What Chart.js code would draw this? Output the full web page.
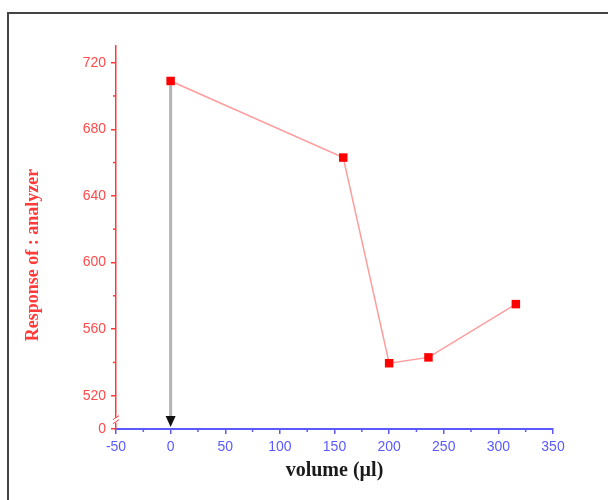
<!DOCTYPE html>
<html>
<head>
<meta charset="utf-8">
<script src="https://cdn.jsdelivr.net/npm/chart.js@4"></script>
<style>
    html, body { margin: 0; padding: 0; background: #fff; }
    #wrap { position: relative; width: 608px; height: 500px; overflow: hidden; }
    #frame {
        position: absolute; left: 7px; top: 12px; right: -5px; bottom: -5px;
        border-top: 2px solid #444; border-left: 2px solid #444;
    }
    canvas { position: absolute; left: 0; top: 0; }
</style>
</head>
<body>
<div id="wrap">
    <div id="frame"></div>
    <canvas id="response" width="608" height="500"></canvas>
</div>
<script>
// Data
const volumes = [0, 158, 200, 236, 316];
const responses = [709, 663, 539.5, 543, 575];

// y axis is broken: the bottom position stands for 0
const yBreakValue = 500;
const yBreakLabel = "0";
const yMajorTicks = [520, 560, 600, 640, 680, 720];
const yMinorTicks = [540, 580, 620, 660, 700];
const xMajorTicks = [-50, 0, 50, 100, 150, 200, 250, 300, 350];
const xMinorTicks = [-25, 25, 75, 125, 175, 225, 275, 325];

const RED = "#ff3b3b";
const BLUE = "#5a5aff";

// extra bits: grey arrow at volume 0, minor ticks, axis break, y title
const extras = {
    id: "extras",
    beforeDatasetsDraw(chart) {
        const { ctx, scales: { x, y } } = chart;
        const px = x.getPixelForValue(volumes[0]);
        const top = y.getPixelForValue(responses[0]);
        const bottom = y.getPixelForValue(yBreakValue);
        ctx.save();
        ctx.strokeStyle = "#b4b4b4";
        ctx.lineWidth = 3;
        ctx.beginPath();
        ctx.moveTo(px, top);
        ctx.lineTo(px, bottom - 12);
        ctx.stroke();
        ctx.fillStyle = "#111";
        ctx.beginPath();
        ctx.moveTo(px - 5, bottom - 13);
        ctx.lineTo(px + 5, bottom - 13);
        ctx.lineTo(px, bottom - 2);
        ctx.closePath();
        ctx.fill();
        ctx.restore();
    },
    afterDraw(chart) {
        const { ctx, scales: { x, y } } = chart;
        ctx.save();
        ctx.lineWidth = 1.5;

        // minor ticks
        ctx.strokeStyle = RED;
        yMinorTicks.forEach(v => {
            const py = y.getPixelForValue(v);
            ctx.beginPath();
            ctx.moveTo(y.right - 3, py);
            ctx.lineTo(y.right, py);
            ctx.stroke();
        });
        ctx.strokeStyle = BLUE;
        xMinorTicks.forEach(v => {
            const px = x.getPixelForValue(v);
            ctx.beginPath();
            ctx.moveTo(px, x.top);
            ctx.lineTo(px, x.top + 3);
            ctx.stroke();
        });

        // axis break
        const bx = y.right;
        const by = y.getPixelForValue(yBreakValue + 5);
        ctx.fillStyle = "#fff";
        ctx.fillRect(bx - 2, by - 3, 4, 5);
        ctx.strokeStyle = RED;
        ctx.lineWidth = 1;
        ctx.beginPath();
        ctx.moveTo(bx - 3, by - 1);
        ctx.lineTo(bx + 3, by - 5);
        ctx.moveTo(bx - 3, by + 3);
        ctx.lineTo(bx + 3, by - 1);
        ctx.stroke();

        // y title
        ctx.translate(33, 255);
        ctx.rotate(-Math.PI / 2);
        ctx.fillStyle = RED;
        ctx.font = "bold 18px 'Liberation Serif', serif";
        ctx.textAlign = "center";
        ctx.textBaseline = "middle";
        ctx.fillText("Response of : analyzer", 0, 0);
        ctx.restore();
    }
};

new Chart(document.getElementById("response"), {
    type: "line",
    data: {
        datasets: [
            {
                data: volumes.map((v, i) => ({ x: v, y: responses[i] })),
                borderColor: "#ff9c9c",
                borderWidth: 1.5,
                pointStyle: "rect",
                pointRadius: 6,
                pointBackgroundColor: "#ff0000",
                pointBorderColor: "#ff0000",
                pointBorderWidth: 0,
                tension: 0,
            },
        ],
    },
    options: {
        responsive: false,
        animation: false,
        layout: { padding: { left: 0, right: 55, top: 46, bottom: 0 } },
        plugins: { legend: { display: false }, tooltip: { enabled: false } },
        scales: {
            x: {
                type: "linear",
                min: -50,
                max: 350,
                afterFit(scale) { scale.height = 71; },
                afterBuildTicks(scale) {
                    scale.ticks = xMajorTicks.map(v => ({ value: v }));
                },
                grid: { drawOnChartArea: false, color: BLUE, tickLength: 5, lineWidth: 1.5 },
                border: { color: BLUE, width: 2 },
                ticks: {
                    color: BLUE,
                    padding: 5,
                    maxRotation: 0,
                    autoSkip: false,
                    font: { family: "'Liberation Sans', Arial, sans-serif", size: 14 },
                },
                title: {
                    display: true,
                    text: "volume (µl)",
                    color: "#1a1a1a",
                    font: { family: "'Liberation Serif', serif", size: 20, weight: "bold" },
                    padding: { top: 0, bottom: 17 },
                },
            },
            y: {
                type: "linear",
                min: yBreakValue,
                max: 730,
                afterFit(scale) { scale.width = 116; },
                afterBuildTicks(scale) {
                    scale.ticks = [yBreakValue, ...yMajorTicks].map(v => ({ value: v }));
                },
                grid: { drawOnChartArea: false, color: RED, tickLength: 5, lineWidth: 1.5 },
                border: { color: RED, width: 1.5 },
                ticks: {
                    color: "#ff4a4a",
                    padding: 5,
                    autoSkip: false,
                    font: { family: "'Liberation Sans', Arial, sans-serif", size: 14 },
                    callback: v => (v === yBreakValue ? yBreakLabel : v),
                },
            },
        },
    },
    plugins: [extras],
});
</script>
</body>
</html>
